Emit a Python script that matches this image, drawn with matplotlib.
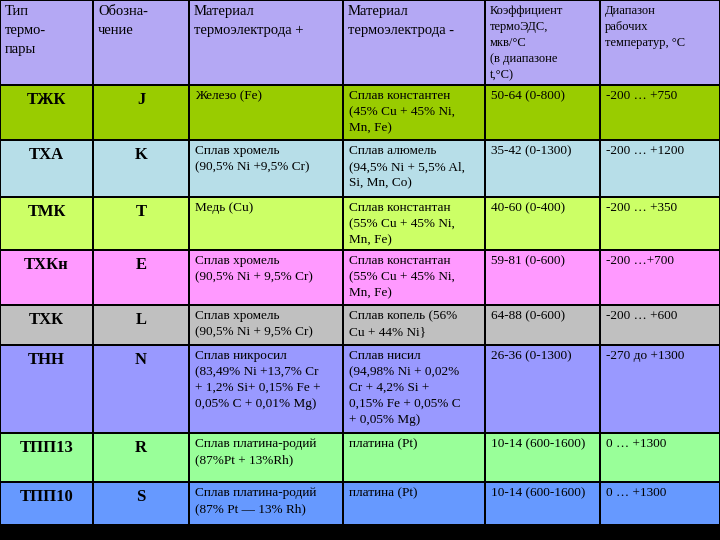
import matplotlib
matplotlib.use("Agg")
import matplotlib.pyplot as plt
from matplotlib.patches import Rectangle

headers = ["Тип\nтермо-\nпары", "Обозна-\nчение", "Материал\nтермоэлектрода +",
           "Материал\nтермоэлектрода -", "Коэффициент\nтермоЭДС,\nмкв/°С\n(в диапазоне\nt,°С)",
           "Диапазон\nрабочих\nтемператур, °С"]
types = ["ТЖК", "ТХА", "ТМК", "ТХКн", "ТХК", "ТНН", "ТПП13", "ТПП10"]
codes = ["J", "K", "T", "E", "L", "N", "R", "S"]
plus_mat = ["Железо (Fe)", "Сплав хромель\n(90,5% Ni +9,5% Cr)", "Медь (Cu)",
            "Сплав хромель\n(90,5% Ni + 9,5% Cr)", "Сплав хромель\n(90,5% Ni + 9,5% Cr)",
            "Сплав никросил\n(83,49% Ni +13,7% Cr\n+ 1,2% Si+ 0,15% Fe +\n0,05% C + 0,01% Mg)",
            "Сплав платина-родий\n(87%Pt + 13%Rh)", "Сплав платина-родий\n(87% Pt — 13% Rh)"]
minus_mat = ["Сплав константен\n(45% Cu + 45% Ni,\nMn, Fe)", "Сплав алюмель\n(94,5% Ni + 5,5% Al,\nSi, Mn, Co)",
             "Сплав константан\n(55% Cu + 45% Ni,\nMn, Fe)", "Сплав константан\n(55% Cu + 45% Ni,\nMn, Fe)",
             "Сплав копель (56%\nCu + 44% Ni}",
             "Сплав нисил\n(94,98% Ni + 0,02%\nCr + 4,2% Si +\n0,15% Fe + 0,05% C\n+ 0,05% Mg)",
             "платина (Pt)", "платина (Pt)"]
coef = ["50-64 (0-800)", "35-42 (0-1300)", "40-60 (0-400)", "59-81 (0-600)", "64-88 (0-600)",
        "26-36 (0-1300)", "10-14 (600-1600)", "10-14 (600-1600)"]
temp_range = ["-200 … +750", "-200 … +1200", "-200 … +350", "-200 …+700", "-200 … +600",
              "-270 до +1300", "0 … +1300", "0 … +1300"]

col_edges = [0, 93, 189, 343, 485, 600, 720]
row_edges = [0, 85, 140, 197, 250, 305, 345, 433, 482, 525]
header_color = "#B4A8F4"
row_colors = ["#99CC00", "#B7DEE8", "#CCFF66", "#FF99FF", "#C0C0C0", "#9999FF", "#99FF99", "#6699FF"]

fig = plt.figure(figsize=(7.2, 5.4), dpi=100)
ax = fig.add_axes([0, 0, 1, 1])
ax.set_xlim(0, 720)
ax.set_ylim(540, 0)
ax.axis("off")
ax.add_patch(Rectangle((0, 0), 720, 540, color="black", zorder=0))

serif = "Liberation Serif"
columns = [types, codes, plus_mat, minus_mat, coef, temp_range]
for r in range(len(row_edges) - 1):
    y0, y1 = row_edges[r], row_edges[r + 1]
    color = header_color if r == 0 else row_colors[r - 1]
    for c in range(6):
        x0, x1 = col_edges[c], col_edges[c + 1]
        ax.add_patch(Rectangle((x0 + 1, y0 + 1), x1 - x0 - 2, y1 - y0 - 2,
                               facecolor=color, edgecolor="none", zorder=1))
        if r == 0:
            big = c < 4
            ax.text(x0 + 5, y0 + 5, headers[c], ha="left", va="top", family=serif,
                    fontsize=10.5 if big else 9, linespacing=1.6 if big else 1.45, zorder=2)
        elif c < 2:
            ax.text((x0 + x1) / 2, y0 + 7, columns[c][r - 1], ha="center", va="top",
                    family=serif, fontsize=12, fontweight="bold", zorder=2)
        else:
            ax.text(x0 + 6, y0 + 5, columns[c][r - 1], ha="left", va="top", family=serif,
                    fontsize=9.5, linespacing=1.45, zorder=2)

fig.savefig("out.png", dpi=100)
